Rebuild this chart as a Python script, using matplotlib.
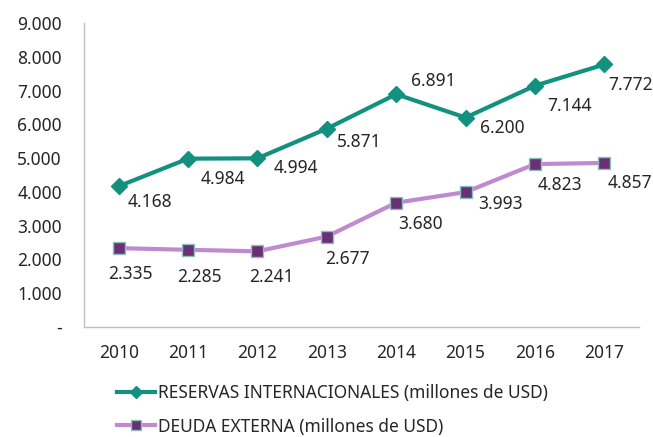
import matplotlib.pyplot as plt
import numpy as np

plt.rcParams['font.family'] = ['Noto Sans', 'DejaVu Sans']

# Data
years = ['2010', '2011', '2012', '2013', '2014', '2015', '2016', '2017']
reservas = [4168, 4984, 4994, 5871, 6891, 6200, 7144, 7772]
deuda = [2335, 2285, 2241, 2677, 3680, 3993, 4823, 4857]
yticks = [0, 1000, 2000, 3000, 4000, 5000, 6000, 7000, 8000, 9000]

# label offsets in pixels (manual placement, as in the original)
off_res = [(31, -16), (35, -20), (38, -10), (32, -13), (37, 13), (37, -10), (35, -20), (26, -21)]
off_deu = [(12, -26), (11, -27), (14, -26), (21, -22), (24, -21), (35, -12), (25, -21), (26, -20)]

teal = '#12917F'
lav = '#C08AD0'
plum = '#6A2F74'
txt = '#262626'
fs = 12.5

fig = plt.figure(figsize=(6.53, 4.37), dpi=100)
ax = fig.add_axes([84 / 653, 110 / 437, (639 - 84) / 653, (327 - 23) / 437])

x = np.arange(len(years))
l1, = ax.plot(x, reservas, color=teal, lw=3, marker='D', ms=8,
              markerfacecolor=teal, markeredgecolor=teal,
              label='RESERVAS INTERNACIONALES (millones de USD)')
l2, = ax.plot(x, deuda, color=lav, lw=3, marker='s', ms=9,
              markerfacecolor=plum, markeredgecolor='#8CC0BC', markeredgewidth=1,
              label='DEUDA EXTERNA (millones de USD)')

for xi, v, o in zip(x, reservas, off_res):
    ax.annotate(f'{v:,}'.replace(',', '.'), (xi, v), xytext=o, textcoords='offset pixels',
                ha='center', va='center', fontsize=fs, color=txt, annotation_clip=False)
for xi, v, o in zip(x, deuda, off_deu):
    ax.annotate(f'{v:,}'.replace(',', '.'), (xi, v), xytext=o, textcoords='offset pixels',
                ha='center', va='center', fontsize=fs, color=txt, annotation_clip=False)

ax.set_xlim(-0.5, 7.5)
ax.set_ylim(0, 9000)
ax.set_xticks(x)
ax.set_xticklabels(years)
ax.set_yticks(yticks)
ax.set_yticklabels(['-'] + [f'{t:,}'.replace(',', '.') for t in yticks[1:]])
ax.tick_params(length=0, labelsize=fs, colors=txt)
ax.tick_params(axis='x', pad=12)
ax.tick_params(axis='y', pad=16)

for s in ['top', 'right']:
    ax.spines[s].set_visible(False)
for s in ['left', 'bottom']:
    ax.spines[s].set_color('#BFBFBF')
    ax.spines[s].set_linewidth(1)

fig.legend(handles=[l1, l2], loc='upper left', bbox_to_anchor=(110 / 653, 1 - 377 / 437),
           frameon=False, fontsize=fs, labelcolor=txt, handlelength=2.2,
           handletextpad=0.15, labelspacing=0.9, borderaxespad=0, markerscale=0.8)

fig.savefig('out.png', dpi=100)
